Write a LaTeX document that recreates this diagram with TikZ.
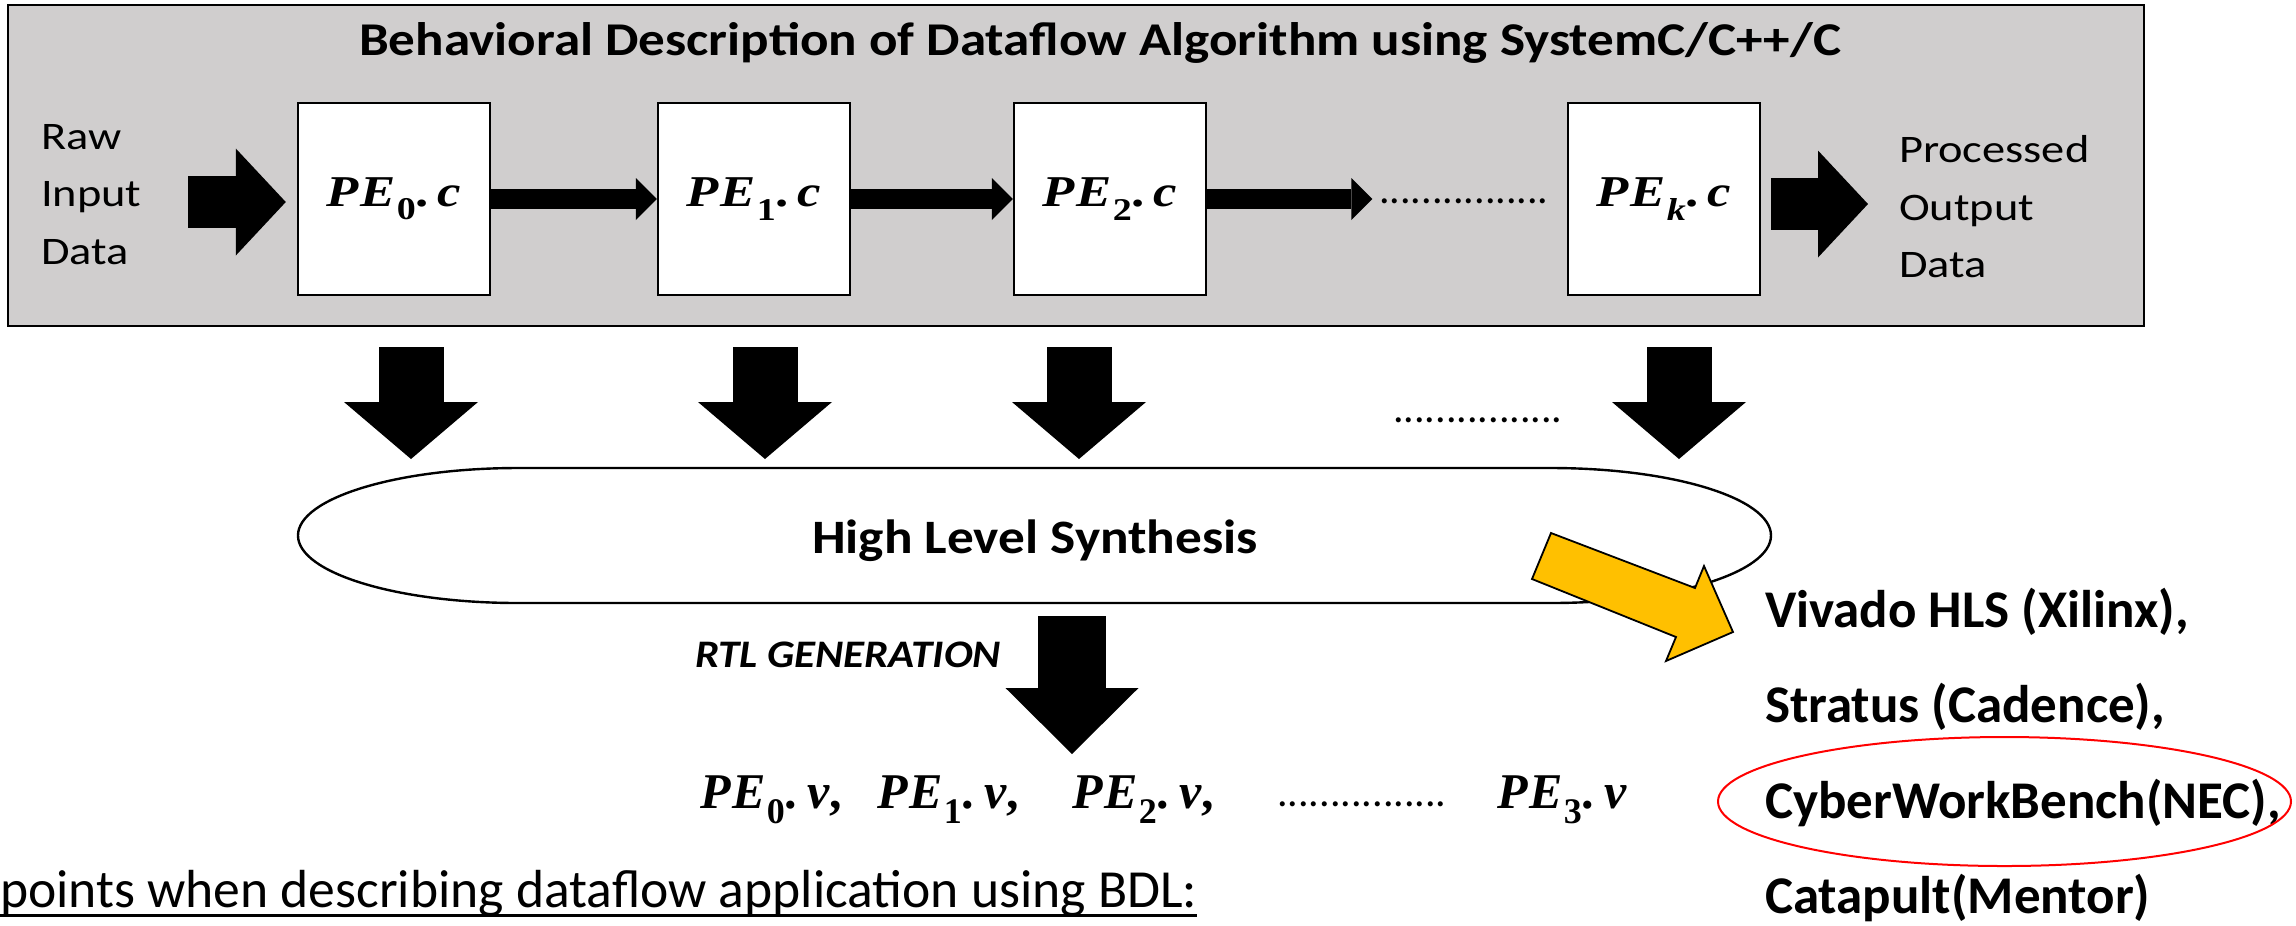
\documentclass[tikz,border=0pt]{standalone}
\usepackage[no-math]{fontspec}
\usepackage{graphicx}
\setmainfont{Carlito}
\newfontfamily\pefont{Liberation Serif}
\newfontfamily\pefontwide{Liberation Serif}[FakeStretch=1.2]
\usetikzlibrary{arrows.meta}

\definecolor{panelgray}{HTML}{D0CECE}
\definecolor{toolyellow}{HTML}{FFC000}

% process-element labels such as PE_0.c : #1 index, #2 suffix letter, #3 trailing mark
\newcommand\pelab[3]{{\bfseries\itshape P\kern0.03em E\kern0.03em%
  \raisebox{-0.3em}{\scalebox{0.72}{\upshape #1}}\upshape.\kern0.2em\itshape #2\upshape #3}}
% stretched sans text
\newcommand\wide[1]{\addfontfeatures{FakeStretch=#1}}

\begin{document}
\begin{tikzpicture}[x=0.25pt,y=-0.25pt,
  txt/.style={inner sep=0pt, outer sep=0pt, anchor=base west},
  pebox/.style={draw=black, line width=0.6pt, fill=white, minimum width=48pt,
                minimum height=48pt, inner sep=0pt,
                font=\fontsize{11pt}{13pt}\selectfont\pefontwide},
  sidetext/.style={txt, font=\fontsize{9.75pt}{11pt}\selectfont\wide{1.19}},
  vendor/.style={txt, font=\fontsize{13.25pt}{16pt}\selectfont\bfseries},
  vfile/.style={txt, font=\fontsize{12.5pt}{15pt}\selectfont\pefont},
  dotrow/.style={inner sep=0pt, anchor=base, font=\fontsize{10.5pt}{12pt}\selectfont},
  thinarrow/.style={line width=5pt,
     -{Triangle[width=10.5pt,length=5.25pt,line width=0pt 0]}},
  bigarrow/.style={line width=13pt,
     -{Triangle[width=26.75pt,length=12.5pt,line width=0pt 0]}},
  downarrow/.style={line width=16.25pt,
     -{Triangle[width=33.5pt,length=14.25pt,line width=0pt 0]}},
  rtlarrow/.style={line width=17pt,
     -{Triangle[width=33.25pt,length=16.5pt,line width=0pt 0]}},
]
\useasboundingbox (0,0) rectangle (2296,925);
\fill[white] (0,0) rectangle (2296,925);

% ---- behavioural description panel ----
\node[draw=black, line width=0.6pt, fill=panelgray, inner sep=0pt,
      minimum width=534pt, minimum height=80.25pt] (panel) at (1076,165.5) {};
\node[txt, anchor=base, font=\fontsize{11.75pt}{14pt}\selectfont\bfseries\wide{1.13}]
  (title) at (1100,55) {Behavioral Description of Dataflow Algorithm using SystemC/C++/C};

\node[pebox] (pe0) at (394,199)  {\pelab{0}{c}{}};
\node[pebox] (pe1) at (754,199)  {\pelab{1}{c}{}};
\node[pebox] (pe2) at (1110,199) {\pelab{2}{c}{}};
\node[pebox] (pek) at (1664,199) {\pelab{\itshape k}{c}{}};
\node[dotrow] (topdots) at (1464,203) {................};

\node[sidetext] (raw1) at (41,149) {Raw};
\node[sidetext] (raw2) at (41,206) {Input};
\node[sidetext] (raw3) at (41,264) {Data};
\node[sidetext] (out1) at (1899,162) {Processed};
\node[sidetext] (out2) at (1899,220) {Output};
\node[sidetext] (out3) at (1899,277) {Data};

\coordinate (inStart) at (188,202);
\coordinate (outEnd) at (1868,204);
\draw[bigarrow, shorten >=2.75pt] (inStart) -- (inStart -| pe0.west);
\draw[bigarrow, shorten <=2.5pt] (outEnd -| pek.east) -- (outEnd);

\draw[thinarrow] (pe0.east) -- (pe1.west);
\draw[thinarrow] (pe1.east) -- (pe2.west);
\draw[thinarrow, shorten >=1.5pt] (pe2.east) -- (pe2.east -| topdots.west);

% ---- high level synthesis ----
\node[txt, anchor=base, font=\fontsize{12pt}{14pt}\selectfont\bfseries\wide{1.11}]
  (hls) at (1035,553) {High Level Synthesis};
\draw[line width=0.6pt] (518,468) -- (1551,468)
  arc[start angle=-90, end angle=90, x radius=220, y radius=67.5]
  -- (518,603)
  arc[start angle=90, end angle=270, x radius=220, y radius=67.5] -- cycle;

\coordinate (d0a) at (411,347);  \coordinate (d0b) at (411,459);
\coordinate (d1a) at (765,347);  \coordinate (d1b) at (765,459);
\coordinate (d2a) at (1079,347); \coordinate (d2b) at (1079,459);
\coordinate (dka) at (1679,347); \coordinate (dkb) at (1679,459);
\draw[downarrow] (d0a) -- (d0b);
\draw[downarrow] (d1a) -- (d1b);
\draw[downarrow] (d2a) -- (d2b);
\draw[downarrow] (dka) -- (dkb);
\node[dotrow] (middots) at (1478,422) {................};

% ---- RTL generation ----
\node[txt, font=\fontsize{9.75pt}{12pt}\selectfont\bfseries\itshape\wide{1.1}]
  (rtl) at (695,667) {RTL GENERATION};
\coordinate (ra) at (1072,616);
\coordinate (rb) at (1072,754);
\draw[rtlarrow] (ra) -- (rb);

\node[vfile] (v0) at (700,808)  {\pelab{0}{v}{,}};
\node[vfile] (v1) at (877,808)  {\pelab{1}{v}{,}};
\node[vfile] (v2) at (1072,808) {\pelab{2}{v}{,}};
\node[dotrow] (botdots) at (1362,806) {................};
\node[vfile] (v3) at (1497,808) {\pelab{3}{v}{}};

% ---- HLS tools ----
\draw[line width=0.45pt, fill=toolyellow, line join=miter]
  (1551,533) -- (1695,588) -- (1704,566) -- (1733,632)
  -- (1666,661) -- (1676,637) -- (1532,579) -- cycle;

\node[vendor] (viv) at (1765,627) {Vivado HLS (Xilinx),};
\node[vendor] (str) at (1765,722) {Stratus (Cadence),};
\node[vendor] (cwb) at (1765,818) {CyberWorkBench(NEC),};
\node[vendor] (cat) at (1765,913) {Catapult(Mentor)};
\draw[red, line width=0.5pt] (2004.5,801.5) ellipse [x radius=286.5, y radius=64.5];

% ---- footer ----
\node[txt, font=\fontsize{13.4pt}{16pt}\selectfont] (pts) at (0,907)
  {points when describing dataflow application using BDL:};
\draw[line width=0.75pt] ([yshift=-2pt]pts.base west) -- ([yshift=-2pt]pts.base east);
\end{tikzpicture}
\end{document}
